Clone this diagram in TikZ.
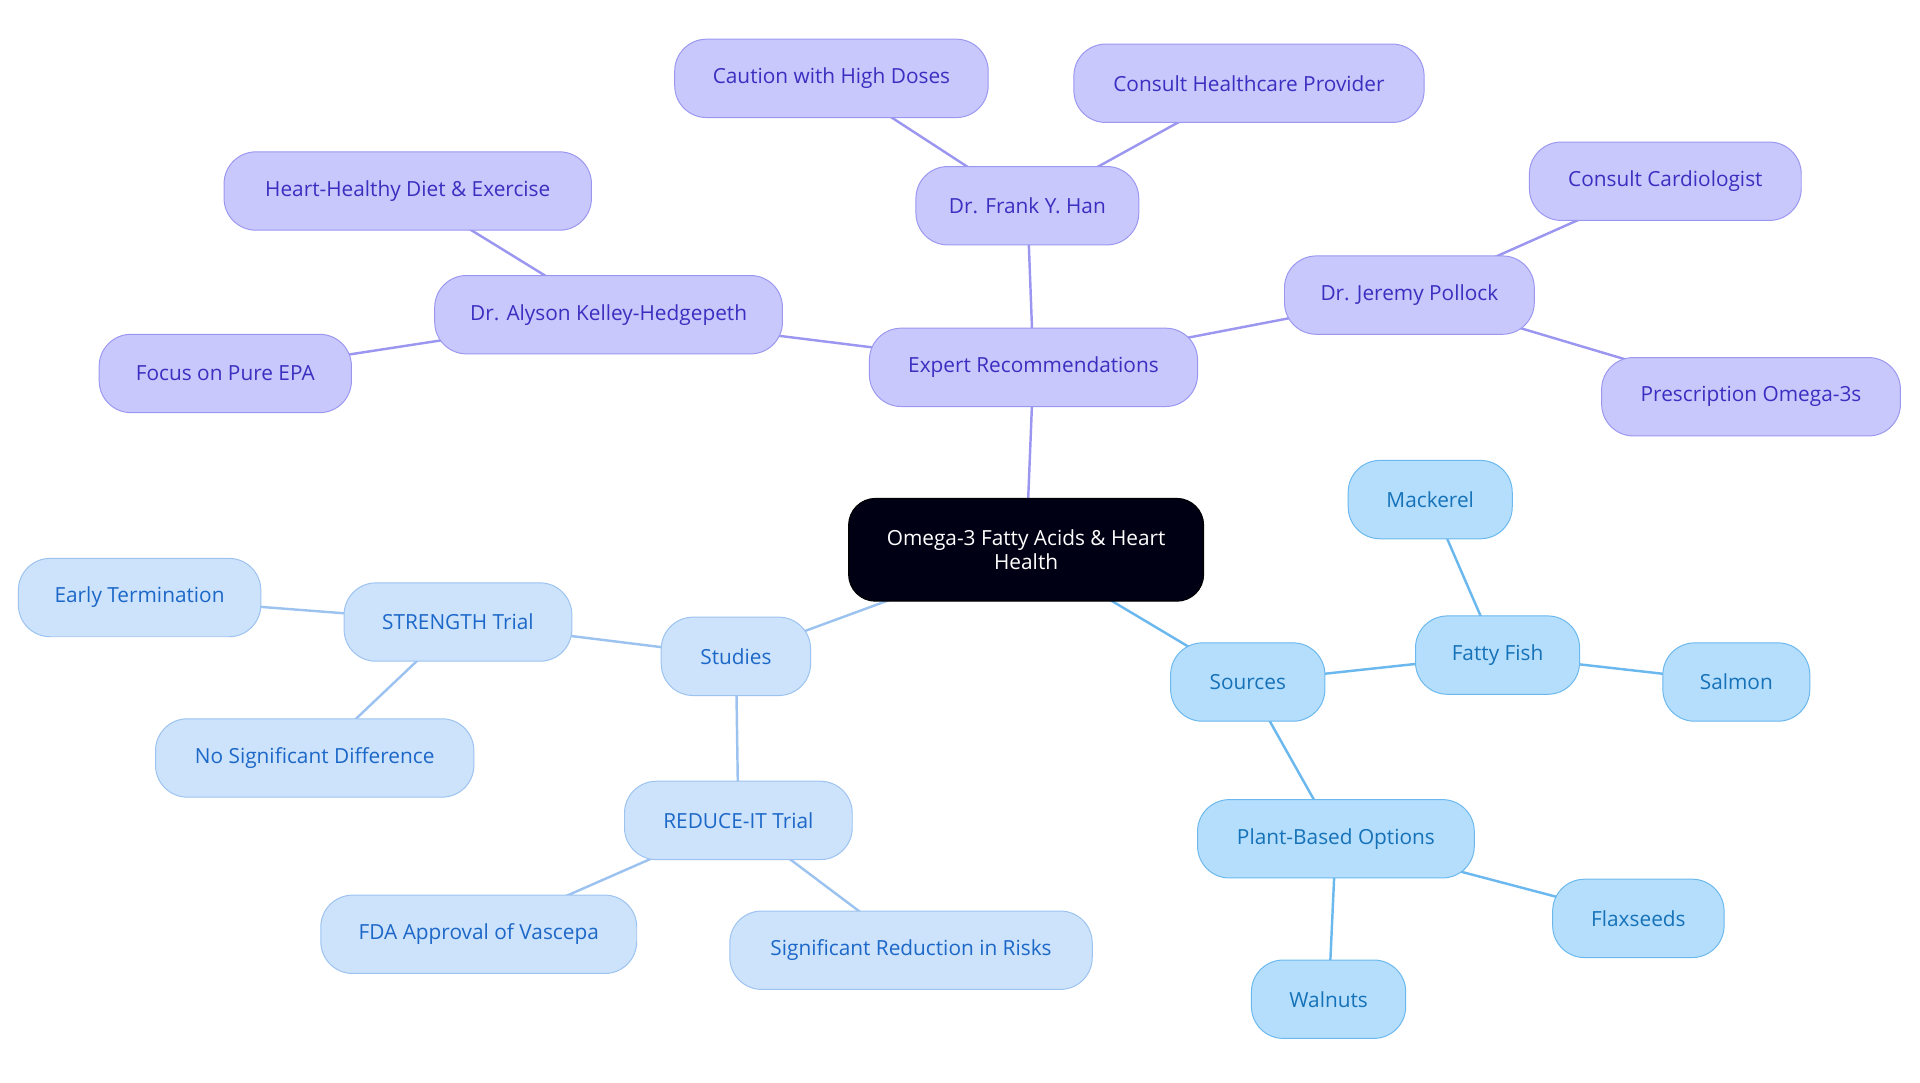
\documentclass[tikz,border=0pt]{standalone}
\usepackage{fontspec}
\setmainfont{Open Sans}
\begin{document}
\begin{tikzpicture}[x=1pt,y=-1pt,
 base/.style={rounded corners=26pt,minimum height=64pt,inner sep=0pt,font=\fontsize{17}{19}\selectfont,line width=0.8pt,align=center},
 pur/.style={base,fill=purpfill,draw=purpdraw,text=purptext},
 stu/.style={base,fill=stufill,draw=studraw,text=stutext},
 src/.style={base,fill=srcfill,draw=srcdraw,text=srctext},
 pl/.style={draw=purpdraw,line width=2pt},
 sl/.style={draw=studraw,line width=2pt},
 rl/.style={draw=srcdraw,line width=2pt}]
\definecolor{purpfill}{HTML}{C9C8FC}\definecolor{purpdraw}{HTML}{9B97F0}\definecolor{purptext}{HTML}{3A2FC0}
\definecolor{stufill}{HTML}{CDE2FB}\definecolor{studraw}{HTML}{9CC3F0}\definecolor{stutext}{HTML}{1C68C8}
\definecolor{srcfill}{HTML}{B5DEFC}\definecolor{srcdraw}{HTML}{6AB8EE}\definecolor{srctext}{HTML}{1672B8}
\useasboundingbox (0,0) rectangle (1568,884);
% edges first
\coordinate (rootc) at (838,449);
\coordinate (erc) at (844,300);\coordinate (fhc) at (839,168);\coordinate (cahc) at (679,64);\coordinate (chpc) at (1020,68);
\coordinate (jpc) at (1151,241);\coordinate (ccc) at (1360,148);\coordinate (poc) at (1430,324);
\coordinate (akc) at (497,257);\coordinate (hhc) at (333,156);\coordinate (fpc) at (184,305);
\coordinate (stc) at (601,536);\coordinate (sgc) at (374,508);\coordinate (etc) at (114,488);\coordinate (nsc) at (257,619);
\coordinate (ric) at (603,670);\coordinate (fdc) at (391,763);\coordinate (src) at (744,776);
\coordinate (soc) at (1019,557);\coordinate (ffc) at (1223,535);\coordinate (mac) at (1168,408);\coordinate (sac) at (1418,557);
\coordinate (pbc) at (1091,685);\coordinate (flc) at (1338,750);\coordinate (wac) at (1085,816);
\draw[pl] (rootc)--(erc) (erc)--(fhc) (fhc)--(cahc) (fhc)--(chpc) (erc)--(jpc) (jpc)--(ccc) (jpc)--(poc) (erc)--(akc) (akc)--(hhc) (akc)--(fpc);
\draw[sl] (rootc)--(stc) (stc)--(sgc) (sgc)--(etc) (sgc)--(nsc) (stc)--(ric) (ric)--(fdc) (ric)--(src);
\draw[rl] (rootc)--(soc) (soc)--(ffc) (ffc)--(mac) (ffc)--(sac) (soc)--(pbc) (pbc)--(flc) (pbc)--(wac);
% nodes
\node[base,fill=black!92!blue,draw=black,text=white,minimum width=290pt,minimum height=84pt,rounded corners=22pt] (root) at (rootc) {Omega-3 Fatty Acids \& Heart\\Health};
\node[pur,minimum width=268pt] (er) at (erc) {Expert Recommendations};
\node[pur,minimum width=182pt] (fh) at (fhc) {Dr. Frank Y. Han};
\node[pur,minimum width=256pt] (cah) at (cahc) {Caution with High Doses};
\node[pur,minimum width=286pt] (chp) at (chpc) {Consult Healthcare Provider};
\node[pur,minimum width=204pt] (jp) at (jpc) {Dr. Jeremy Pollock};
\node[pur,minimum width=222pt] (cc) at (ccc) {Consult Cardiologist};
\node[pur,minimum width=244pt] (po) at (poc) {Prescription Omega-3s};
\node[pur,minimum width=284pt] (ak) at (akc) {Dr. Alyson Kelley-Hedgepeth};
\node[pur,minimum width=300pt] (hh) at (hhc) {Heart-Healthy Diet \& Exercise};
\node[pur,minimum width=206pt] (fp) at (fpc) {Focus on Pure EPA};
\node[stu,minimum width=122pt] (st) at (stc) {Studies};
\node[stu,minimum width=186pt] (sg) at (sgc) {STRENGTH Trial};
\node[stu,minimum width=198pt] (et) at (etc) {Early Termination};
\node[stu,minimum width=260pt] (ns) at (nsc) {No Significant Difference};
\node[stu,minimum width=186pt] (ri) at (ric) {REDUCE-IT Trial};
\node[stu,minimum width=258pt] (fd) at (fdc) {FDA Approval of Vascepa};
\node[stu,minimum width=296pt] (sr) at (src) {Significant Reduction in Risks};
\node[src,minimum width=126pt] (so) at (soc) {Sources};
\node[src,minimum width=134pt] (ff) at (ffc) {Fatty Fish};
\node[src,minimum width=134pt] (ma) at (mac) {Mackerel};
\node[src,minimum width=120pt] (sa) at (sac) {Salmon};
\node[src,minimum width=226pt] (pb) at (pbc) {Plant-Based Options};
\node[src,minimum width=140pt] (fl) at (flc) {Flaxseeds};
\node[src,minimum width=126pt] (wa) at (wac) {Walnuts};
\end{tikzpicture}
\end{document}
